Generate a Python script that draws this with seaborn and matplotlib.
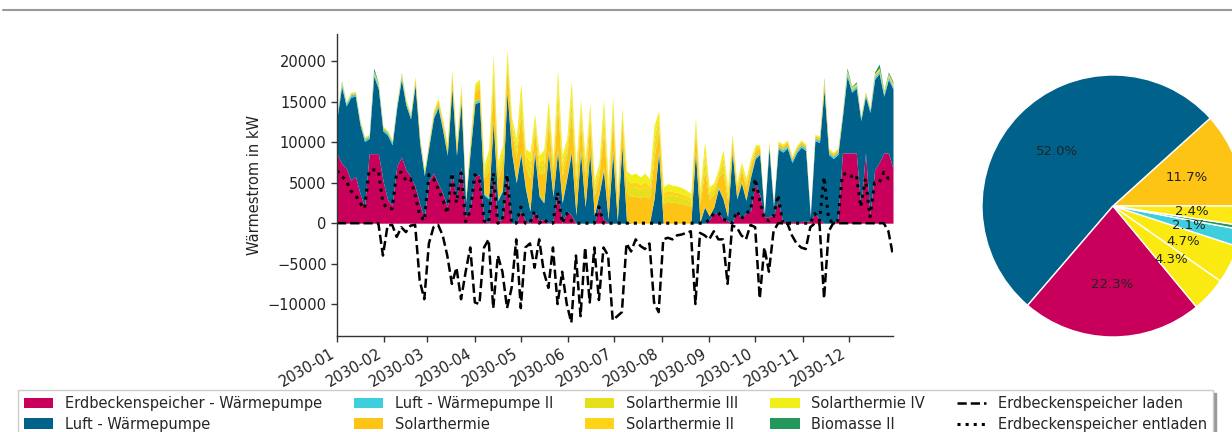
import numpy as np
import pandas as pd
import matplotlib
matplotlib.use("Agg")
import matplotlib.pyplot as plt
import matplotlib.dates as mdates
from matplotlib.lines import Line2D
import seaborn as sns

# ---- time axis (3-day samples of the year 2030) ----
dates = pd.date_range("2030-01-01", periods=122, freq="3D")

# ---- stacked heat flows in kW ----
erdbecken_wp = [8600,7400,6800,5300,5800,3700,2000,8600,8600,8600,5300,2900,2200,7000,8200,6600,5800,4500,2400,600,5300,6200,4900,3700,2000,6200,2900,7000,800,2000,5800,
                6000,500,0,6000,300,500,6200,0,0,1500,300,0,1500,300,500,0,300,3800,0,1500,1000,0,0,0,0,0,2000,500,0,0,0,
                0,0,0,0,0,0,0,0,0,0,0,0,0,0,0,0,0,0,0,400,1200,1300,500,300,0,1500,500,1300,1500,5000,
                3500,800,800,1000,2800,200,200,200,200,200,300,200,1200,500,0,0,0,500,8700,8700,8700,8700,2000,8700,1000,6600,7500,8700,8700,6800]
luft_wp = [4400,9500,7700,10300,9900,8500,8100,1900,9600,8000,6100,8000,7500,7300,9600,8000,7100,12600,7500,5300,4200,6800,9400,7800,6400,10500,5500,8000,1800,7000,9000,
           9000,3000,3000,6500,2500,3500,10000,8700,5000,7000,4000,1500,7200,3000,2000,8700,3000,5000,2500,4000,7700,1000,8700,2000,8700,1000,1500,6000,500,8700,300,
           9500,300,0,0,0,0,0,3000,8700,0,0,0,0,0,0,0,8700,200,2000,500,800,3000,2500,500,8700,1500,4500,1500,4200,3000,
           5000,200,8500,1000,6400,8600,9100,7300,8500,9200,8700,600,9000,9500,16500,8500,8000,8000,4500,9500,7500,8000,10700,7000,12700,11200,11000,7000,9100,9800]
luft_wp2 = [300,300,300,300,300,300,300,300,300,300,300,300,300,300,300,300,300,300,300,300,300,300,300,300,300,300,300,300,200,300,300,
            300,200,200,300,200,200,300,300,200,300,200,100,300,200,100,300,200,300,200,200,300,100,300,100,300,100,100,300,100,300,0,
            300,0,0,0,0,0,0,100,300,0,0,0,0,0,0,0,300,0,100,0,0,200,100,0,300,100,200,100,200,200,
            200,0,300,0,300,300,300,300,300,300,300,0,300,300,300,300,300,300,300,300,300,300,300,300,300,300,300,300,300,300]
solar = [110,170,110,170,170,170,170,110,170,170,170,170,170,170,220,220,220,440,280,220,280,390,500,550,660,1100,660,1100,280,770,1210,
         1380,1930,3300,4400,2530,3030,2750,2200,2920,4680,2590,3960,2480,2700,3580,3410,2480,5390,3140,2640,4730,3300,3410,3190,3190,2370,2150,4620,2640,3630,1870,
         2480,3410,3300,3410,3140,3410,3030,4950,2700,2480,2700,2590,2530,2420,2260,2040,2260,2200,4400,1980,1650,1210,3300,2040,1100,1100,1320,1490,1160,830,
         550,0,330,60,390,390,390,280,330,330,280,0,280,280,550,280,280,280,170,220,170,170,170,170,170,220,220,170,220,220]
solar2 = [20,30,20,30,30,30,30,20,30,30,30,30,30,30,40,40,40,80,50,40,50,70,90,100,120,200,120,200,50,140,220,
          250,350,600,800,460,550,500,400,530,850,470,720,450,490,650,620,450,980,570,480,860,600,620,580,580,430,390,840,480,660,340,
          450,620,600,620,570,620,550,900,490,450,490,470,460,440,410,370,410,400,800,360,300,220,600,370,200,200,240,270,210,150,
          100,0,60,10,70,70,70,50,60,60,50,0,50,50,100,50,50,50,30,40,30,30,30,30,30,40,40,30,40,40]
solar3 = [40,50,40,50,50,50,50,40,50,50,50,50,50,50,70,70,70,140,90,70,90,130,160,180,220,360,220,360,90,250,400,
          450,630,1080,1440,830,990,900,720,950,1530,850,1300,810,880,1170,1120,810,1760,1030,860,1550,1080,1120,1040,1040,770,700,1510,860,1190,610,
          810,1120,1080,1120,1030,1120,990,1620,880,810,880,850,830,790,740,670,740,720,1440,650,540,400,1080,670,360,360,430,490,380,270,
          180,0,110,20,130,130,130,90,110,110,90,0,90,90,180,90,90,90,50,70,50,50,50,50,50,70,70,50,70,70]
solar4 = [30,50,30,50,50,50,50,30,50,50,50,50,50,50,70,70,70,140,80,70,80,110,150,170,200,340,200,340,80,240,370,
          420,590,1020,1360,780,930,850,680,900,1440,790,1220,760,830,1100,1050,760,1670,960,820,1460,1020,1050,990,990,730,660,1430,820,1120,580,
          760,1050,1020,1050,960,1050,930,1530,830,760,830,790,780,750,690,620,690,680,1360,610,510,370,1020,620,340,340,410,450,350,250,
          170,0,100,20,110,110,110,80,100,100,80,0,80,80,170,80,80,80,50,70,50,50,50,50,50,70,70,50,70,70]
biomasse2 = [0,100,0,0,0,0,0,0,400,100,0,0,0,0,100,0,0,0,0,0,0,0,0,0,0,0,0,0,0,0,0,
             0,0,0,0,0,0,0,0,0,0,0,0,0,0,0,0,0,0,0,0,0,0,0,0,0,0,0,0,0,0,0,
             0,0,0,0,0,0,0,0,0,0,0,0,0,0,0,0,0,0,0,0,0,0,0,0,0,0,0,0,0,0,
             0,0,0,0,0,0,0,0,0,0,0,0,0,0,200,0,0,0,0,300,100,200,0,0,0,200,500,100,200,200]

# ---- storage lines in kW ----
laden = [0,0,0,0,0,0,0,0,0,0,-4000,-300,-200,-1700,-500,-1100,-300,-200,-7100,-9400,-2500,-500,-200,-1500,-4000,-7500,-5500,-9400,-6000,-3000,-9800,
         -10000,-3000,-2000,-10500,-4000,-6000,-10500,-8000,-2000,-10500,-3000,-2500,-5500,-2000,-6000,-8000,-3000,-10000,-6000,-10000,-12300,-4000,-11500,-3000,-9800,-3000,-9500,-3000,-4000,-12000,-11500,
         -11000,-2500,-3500,-2000,-2800,-3200,-2500,-9800,-11000,-2000,-1800,-2000,-1500,-1400,-1200,-1000,-10000,-1200,-1500,-2000,-1000,-2000,-2000,-7500,-300,-500,-1500,-2000,-200,-500,
         -9300,-3000,-6000,-1000,0,0,0,-1500,-2500,-3000,-3200,-500,0,0,-9300,-1000,0,0,0,0,0,0,0,0,0,0,0,0,-1000,-4000]
entladen = [6500,5800,5300,4000,3500,2500,1800,6500,6600,6500,2500,1800,1800,6200,6300,5300,5500,3500,1000,300,6000,5500,4300,3000,1200,6200,2500,6200,200,1500,6000,
            5500,300,0,6200,0,300,6000,0,0,2000,0,0,1500,0,500,0,0,3800,0,1200,300,0,0,0,0,0,2000,0,0,0,0,
            0,0,0,0,0,0,0,0,0,0,0,0,0,0,0,0,0,0,0,400,1200,1300,500,300,0,1500,500,1300,1500,5500,
            2800,500,300,800,3500,0,0,0,0,0,0,0,1200,300,5700,500,0,300,6000,6200,5800,6000,2000,5500,800,5000,5000,6300,5500,5800]

# ---- labels / colours ----
series_labels = ["Erdbeckenspeicher - Wärmepumpe", "Luft - Wärmepumpe", "Luft - Wärmepumpe II",
                 "Solarthermie", "Solarthermie III", "Solarthermie II", "Solarthermie IV", "Biomasse II"]
series_colors = ["#C9005B", "#00628B", "#3ECFDC", "#FDC315", "#E5E01A", "#FFD416", "#F0EF17", "#23985A"]
line_labels = ["Erdbeckenspeicher laden", "Erdbeckenspeicher entladen"]

# ---- pie shares (percent) ----
pie_labels = ["Solarthermie", "Luft - Wärmepumpe", "Erdbeckenspeicher - Wärmepumpe", "Solarthermie IV",
              "Solarthermie III", "Luft - Wärmepumpe II", "Biomasse II", "Solarthermie II"]
pie_values = [11.7, 52.0, 22.3, 4.3, 4.7, 2.1, 0.5, 2.4]
pie_colors = ["#FDC315", "#00628B", "#C9005B", "#FBEA12", "#FBEA12", "#3ECFDC", "#23985A", "#FCE913"]

yticks = [-10000, -5000, 0, 5000, 10000, 15000, 20000]

# ---- style ----
sns.set_theme(style="ticks")
plt.rcParams["font.family"] = ["DejaVu Sans"]
FS = 10.5

W, H = 1232, 432
fig = plt.figure(figsize=(W / 100, H / 100), dpi=100)

ax = fig.add_axes([337 / W, (H - 336) / H, 556 / W, 302 / H])
stack = ax.stackplot(dates, erdbecken_wp, luft_wp, luft_wp2, solar, solar3, solar2, solar4, biomasse2,
                     colors=series_colors, labels=series_labels, linewidth=0)

df = pd.DataFrame({"date": dates, "laden": laden, "entladen": entladen})
sns.lineplot(data=df, x="date", y="laden", ax=ax, color="black", linestyle="--", linewidth=1.8,
             label=line_labels[0])
sns.lineplot(data=df, x="date", y="entladen", ax=ax, color="black", linestyle=":", linewidth=2.2,
             label=line_labels[1])
if ax.get_legend() is not None:
    ax.get_legend().remove()

ax.set_xlim(dates[0], dates[-1])
ax.set_ylim(-13950, 23400)
ax.set_yticks(yticks)
ax.xaxis.set_major_locator(mdates.MonthLocator())
ax.xaxis.set_major_formatter(mdates.DateFormatter("%Y-%m"))
ax.set_xlabel("")
ax.set_ylabel("Wärmestrom in kW", fontsize=FS, color="#222222")
ax.tick_params(axis="both", labelsize=FS, length=4, width=1, color="#333333", labelcolor="#222222")
for lbl in ax.get_xticklabels():
    lbl.set_rotation(30)
    lbl.set_ha("right")
sns.despine(ax=ax)
for s in ("left", "bottom"):
    ax.spines[s].set_color("#333333")
    ax.spines[s].set_linewidth(1.0)

# ---- pie ----
R = 131
cx, cy = 1113, 206
side = 2.5 * R
pax = fig.add_axes([(cx - side / 2) / W, (H - cy - side / 2) / H, side / W, side / H])
pax.pie(pie_values, colors=pie_colors, startangle=0, counterclock=True,
        autopct=lambda p: f"{p:.1f}%" if p >= 1 else "", pctdistance=0.6,
        textprops={"fontsize": 9.5, "color": "#222222"})

# ---- legend ----
handles, labels = ax.get_legend_handles_labels()
leg = fig.legend(handles, labels, ncol=5, loc="upper left", bbox_to_anchor=(18 / W, (H - 390) / H),
                 borderaxespad=0, fontsize=FS, frameon=True, fancybox=False, edgecolor="#cccccc",
                 framealpha=1.0, columnspacing=2.2, labelspacing=0.4,
                 shadow={"color": "#9a9a9a", "alpha": 1.0})

# ---- thin grey rule at the top ----
fig.add_artist(Line2D([3 / W, 1.0], [1 - 9.5 / H, 1 - 9.5 / H], color="#9a9a9a", linewidth=1.5))

fig.savefig("out.png", dpi=100)
